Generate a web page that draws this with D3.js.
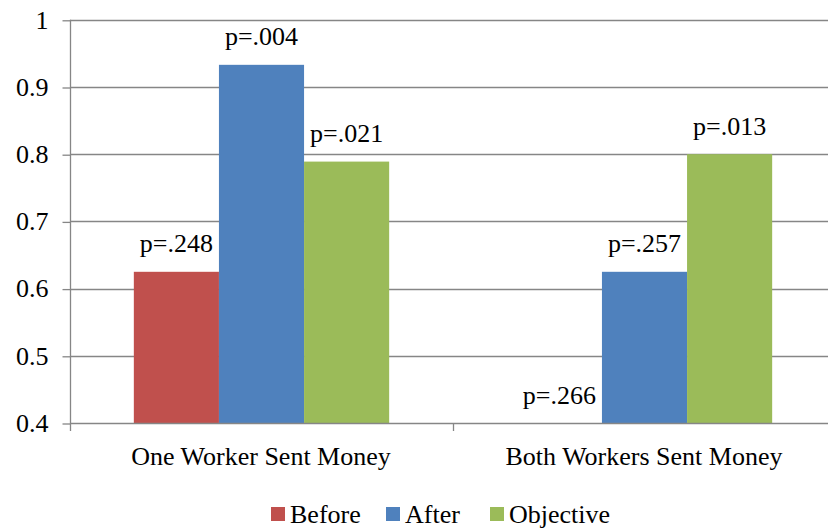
<!DOCTYPE html>
<html>
<head>
<meta charset="utf-8">
<script src="https://cdn.jsdelivr.net/npm/d3@7"></script>
</head>
<body style="margin:0">
<svg id="fig" width="828" height="529"></svg>
<script>
// Share of workers, before / after / objective, by sending condition
const categories = ["One Worker Sent Money", "Both Workers Sent Money"];
const series = ["Before", "After", "Objective"];
const beforeValues = [0.625, 0.375];
const afterValues = [0.933, 0.625];
const objectiveValues = [0.789, 0.800];
const beforeLabels = ["p=.248", "p=.266"];
const afterLabels = ["p=.004", "p=.257"];
const objectiveLabels = ["p=.021", "p=.013"];
const yTicks = [0.4, 0.5, 0.6, 0.7, 0.8, 0.9, 1];
const colors = ["#C0504D", "#4F81BD", "#9BBB59"];

const valuesBySeries = [beforeValues, afterValues, objectiveValues];
const labelsBySeries = [beforeLabels, afterLabels, objectiveLabels];

const FONT = "Liberation Serif";
const svg = d3.select("#fig");
const plotLeft = 70, plotRight = 836, plotTop = 19.8, plotBottom = 423;
const yMin = 0.4, yMax = 1;

const x0 = d3.scaleBand().domain(categories).range([plotLeft, plotRight]).padding(0);
const x1 = d3.scaleBand().domain(series).range([0, x0.bandwidth()])
  .paddingInner(0).paddingOuter(0.75);
const y = d3.scaleLinear().domain([yMin, yMax]).range([plotBottom, plotTop]);

const grid = "#868686";

// text helper: serif face at 26px
function serif(sel) {
  return sel.attr("font-family", FONT).attr("font-size", 26).attr("fill", "#000");
}

// horizontal gridlines
svg.append("g").selectAll("line").data(yTicks.filter(t => t > yMin)).join("line")
  .attr("x1", plotLeft).attr("x2", plotRight)
  .attr("y1", d => Math.round(y(d)) + 0.5).attr("y2", d => Math.round(y(d)) + 0.5)
  .attr("stroke", grid).attr("stroke-width", 1.3);

// bars
const rows = [];
categories.forEach((c, ci) => {
  series.forEach((s, si) => {
    rows.push({ c, s, si, v: valuesBySeries[si][ci], label: labelsBySeries[si][ci] });
  });
});

svg.append("g").selectAll("rect").data(rows.filter(d => d.v > yMin)).join("rect")
  .attr("x", d => x0(d.c) + x1(d.s))
  .attr("width", x1.bandwidth())
  .attr("y", d => y(d.v))
  .attr("height", d => plotBottom - y(d.v))
  .attr("fill", d => colors[d.si]);

// p-value labels above each bar
svg.append("g").selectAll("text").data(rows).join("text")
  .attr("x", d => x0(d.c) + x1(d.s) + x1.bandwidth() / 2)
  .attr("y", d => y(Math.max(d.v, yMin)) - 19.5)
  .attr("text-anchor", "middle")
  .call(serif)
  .text(d => d.label);

// y axis with outward ticks
const yAxis = d3.axisLeft(y).tickValues(yTicks).tickSize(8).tickPadding(14)
  .tickFormat(d => d === 1 ? "1" : d3.format(".1f")(d));
const gy = svg.append("g").attr("transform", `translate(${plotLeft + 0.5},0.5)`).call(yAxis)
  .attr("font-family", FONT).attr("font-size", 26);
gy.select(".domain").remove();
gy.selectAll(".tick line").attr("stroke", grid).attr("stroke-width", 1.3);
gy.selectAll(".tick text").call(serif).attr("dy", "0.3em");
svg.append("line").attr("x1", plotLeft + 0.5).attr("x2", plotLeft + 0.5).attr("y1", plotTop).attr("y2", plotBottom + 8)
  .attr("stroke", grid).attr("stroke-width", 1.3);

// x axis baseline and category ticks
svg.append("line").attr("x1", plotLeft).attr("x2", plotRight)
  .attr("y1", Math.round(plotBottom) + 0.5).attr("y2", Math.round(plotBottom) + 0.5)
  .attr("stroke", grid).attr("stroke-width", 1.3);
svg.append("g").selectAll("line").data(categories.slice(1)).join("line")
  .attr("x1", d => x0(d) + 0.5).attr("x2", d => x0(d) + 0.5)
  .attr("y1", plotBottom).attr("y2", plotBottom + 8)
  .attr("stroke", grid).attr("stroke-width", 1.3);
svg.append("g").selectAll("text").data(categories).join("text")
  .attr("x", d => x0(d) + x0.bandwidth() / 2 - 0.5)
  .attr("y", 465)
  .attr("text-anchor", "middle")
  .call(serif)
  .text(d => d);

// legend
const legendX = [271, 386, 490];
const lg = svg.append("g").selectAll("g").data(series).join("g")
  .attr("transform", (d, i) => `translate(${legendX[i]},0)`);
lg.append("rect").attr("x", 0).attr("y", 507).attr("width", 14).attr("height", 14)
  .attr("fill", (d, i) => colors[i]);
lg.append("text").attr("x", 19).attr("y", 523).call(serif).text(d => d);
</script>
</body>
</html>
